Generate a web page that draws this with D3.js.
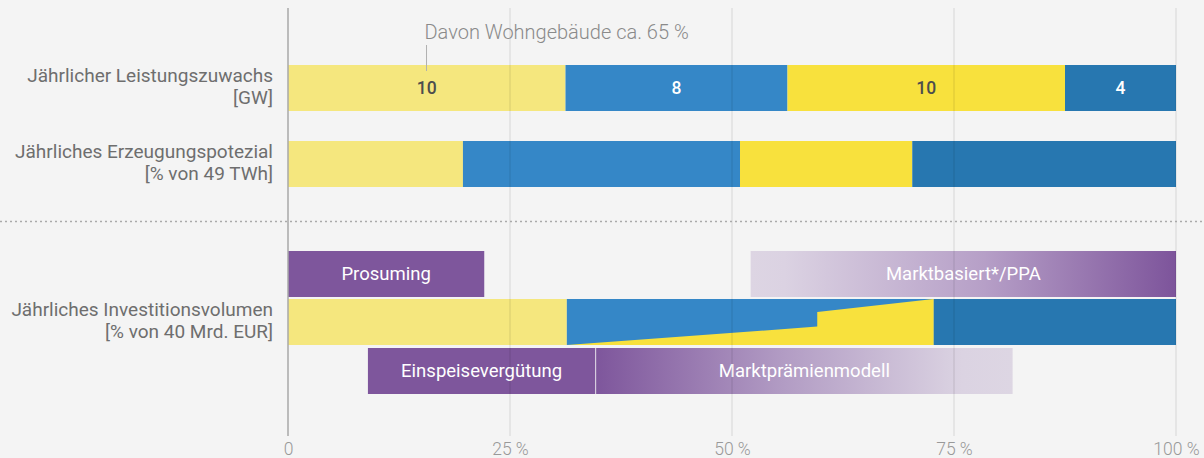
<!DOCTYPE html>
<html>
<head>
<meta charset="utf-8">
<script src="https://cdn.jsdelivr.net/npm/d3@7"></script>
<style>
  html, body { margin: 0; padding: 0; background: #f4f4f4; }
  svg { display: block; font-family: Roboto, "Open Sans", sans-serif; }
</style>
</head>
<body>
<svg id="chart" width="1204" height="458"></svg>
<script>
// ---------- data ----------
const rowLabels = [
  ["Jährlicher Leistungszuwachs", "[GW]"],
  ["Jährliches Erzeugungspotezial", "[% von 49 TWh]"],
  ["Jährliches Investitionsvolumen", "[% von 40 Mrd. EUR]"]
];
const rowKeys = ["leistung", "erzeugung", "invest"];
const segmentColors = ["#f5e77e", "#3587c7", "#f8e13d", "#2777b0"];
const leistungValues = [10, 8, 10, 4];            // GW
const leistungLabelColors = ["#4d4d4d", "#ffffff", "#4d4d4d", "#ffffff"];
const erzeugungValues = [19.7, 31.2, 19.4, 29.7]; // % of 49 TWh
const investValues = [31.4, 41.3, 27.3];          // % of 40 Mrd. EUR
const investColors = ["#f5e77e", "#3587c7", "#2777b0"];
// transition wedge (yellow) inside the blue investment segment
const wedgeX = [31.4, 59.6, 59.6, 72.7];           // % position
const wedgeShare = [0, 0.40, 0.72, 1.0];           // share of bar height from bottom
const programNames = ["Prosuming", "Marktbasiert*/PPA", "Einspeisevergütung", "Marktprämienmodell"];
const programStart = [0, 52.1, 9.0, 34.7];
const programEnd = [22.1, 100, 34.6, 81.6];
const programRow = ["above", "above", "below", "below"];
const programFade = ["none", "in", "none", "out"];
const tickValues = [0, 25, 50, 75, 100];
const tickLabels = ["0", "25 %", "50 %", "75 %", "100 %"];
const annotationText = "Davon Wohngebäude ca. 65 %";
const annotationAt = 15.6; // % position of the marker

// ---------- layout ----------
const svg = d3.select("#chart");
const x = d3.scaleLinear().domain([0, 100]).range([288, 1176]);
const yCenter = d3.scaleOrdinal()
  .domain(["leistung", "erzeugung", "above", "invest", "below"])
  .range([88, 164, 274, 322, 371]);
const barH = 46;

// defs: gradients
const defs = svg.append("defs");
const gIn = defs.append("linearGradient").attr("id", "fadeIn");
gIn.append("stop").attr("offset", "0%").attr("stop-color", "#ddd5e3");
gIn.append("stop").attr("offset", "8%").attr("stop-color", "#dbd2e2");
gIn.append("stop").attr("offset", "55%").attr("stop-color", "#b69fc7");
gIn.append("stop").attr("offset", "100%").attr("stop-color", "#7d549b");
const gOut = defs.append("linearGradient").attr("id", "fadeOut");
gOut.append("stop").attr("offset", "0%").attr("stop-color", "#7e569c");
gOut.append("stop").attr("offset", "45%").attr("stop-color", "#b29cc4");
gOut.append("stop").attr("offset", "88%").attr("stop-color", "#dbd3e2");
gOut.append("stop").attr("offset", "100%").attr("stop-color", "#ddd6e3");

// ---------- bars ----------
function stack(values) {
  const total = d3.sum(values);
  let acc = 0;
  return values.map(v => { const s = acc; acc += v; return [s / total * 100, acc / total * 100]; });
}

// Row 1
const r1 = stack(leistungValues);
const g1 = svg.append("g");
g1.selectAll("rect").data(r1).join("rect")
  .attr("x", d => x(d[0])).attr("width", d => x(d[1]) - x(d[0]))
  .attr("y", yCenter("leistung") - barH / 2).attr("height", barH)
  .attr("fill", (d, i) => segmentColors[i]);

// Row 2
const r2 = stack(erzeugungValues);
svg.append("g").selectAll("rect").data(r2).join("rect")
  .attr("x", d => x(d[0])).attr("width", d => x(d[1]) - x(d[0]))
  .attr("y", yCenter("erzeugung") - barH / 2).attr("height", barH)
  .attr("fill", (d, i) => segmentColors[i]);

// Row 3
const r3 = stack(investValues);
svg.append("g").selectAll("rect").data(r3).join("rect")
  .attr("x", d => x(d[0])).attr("width", d => x(d[1]) - x(d[0]))
  .attr("y", yCenter("invest") - barH / 2).attr("height", barH)
  .attr("fill", (d, i) => investColors[i]);

// wedge
const yBar = d3.scaleLinear().domain([0, 1])
  .range([yCenter("invest") + barH / 2, yCenter("invest") - barH / 2]);
const wedgePts = wedgeX.map((v, i) => [x(v), yBar(wedgeShare[i])]);
wedgePts.push([x(wedgeX[wedgeX.length - 1]), yBar(0)]);
svg.append("path")
  .attr("d", d3.line()(wedgePts) + "Z")
  .attr("fill", "#f8e13d");

// program boxes
const progs = programNames.map((n, i) => ({ n, s: programStart[i], e: programEnd[i], row: programRow[i], fade: programFade[i] }));
const pg = svg.append("g").selectAll("g").data(progs).join("g");
pg.append("rect")
  .attr("x", d => x(d.s)).attr("width", d => x(d.e) - x(d.s))
  .attr("y", d => yCenter(d.row) - barH / 2).attr("height", barH)
  .attr("fill", d => d.fade === "in" ? "url(#fadeIn)" : d.fade === "out" ? "url(#fadeOut)" : "#7e569c");
pg.append("text")
  .attr("x", d => (x(d.s) + x(d.e)) / 2)
  .attr("y", d => yCenter(d.row))
  .attr("dy", "0.35em")
  .attr("text-anchor", "middle")
  .attr("fill", "#ffffff")
  .attr("font-size", 18.5)
  .attr("font-weight", 400)
  .text(d => d.n);

// gridlines (on top, faint)
svg.append("g").selectAll("line").data(tickValues.slice(1)).join("line")
  .attr("x1", d => x(d)).attr("x2", d => x(d))
  .attr("y1", 8).attr("y2", 436)
  .attr("stroke", "#000").attr("stroke-opacity", 0.08).attr("stroke-width", 1.5);

// baseline axis
svg.append("line")
  .attr("x1", x(0)).attr("x2", x(0)).attr("y1", 8).attr("y2", 436)
  .attr("stroke", "#a8a8a8").attr("stroke-width", 1.5);

// value labels row 1
g1.selectAll("text").data(r1).join("text")
  .attr("x", d => (x(d[0]) + x(d[1])) / 2)
  .attr("y", yCenter("leistung"))
  .attr("dy", "0.35em")
  .attr("text-anchor", "middle")
  .attr("font-size", 17.5)
  .attr("font-weight", 500)
  .attr("fill", (d, i) => leistungLabelColors[i])
  .text((d, i) => leistungValues[i]);

// separator
svg.append("line")
  .attr("x1", 0).attr("x2", 1204).attr("y1", 221.5).attr("y2", 221.5)
  .attr("stroke", "#aaaaaa").attr("stroke-width", 1.5)
  .attr("stroke-dasharray", "2,3");

// annotation
svg.append("line")
  .attr("x1", x(annotationAt)).attr("x2", x(annotationAt))
  .attr("y1", 45).attr("y2", 71)
  .attr("stroke", "#b0b0b0").attr("stroke-width", 1);
svg.append("text")
  .attr("x", x(annotationAt) - 2).attr("y", 39)
  .attr("font-size", 20).attr("font-weight", 300)
  .attr("fill", "#8a8a8a")
  .text(annotationText);

// row labels
const lbl = svg.append("g").selectAll("text").data(rowLabels).join("text")
  .attr("text-anchor", "end")
  .attr("font-size", 19)
  .attr("fill", "#6e6e6e")
  .attr("transform", (d, i) => `translate(273,${yCenter(rowKeys[i])})`);
lbl.selectAll("tspan").data(d => d).join("tspan")
  .attr("x", 0)
  .attr("y", (d, j) => j === 0 ? -6 : 16)
  .text(d => d);

// x axis tick labels
const axis = d3.axisBottom(x).tickValues(tickValues).tickFormat((d, i) => tickLabels[i]).tickSize(0);
const ax = svg.append("g").attr("transform", "translate(0,436)").call(axis);
ax.select(".domain").remove();
ax.selectAll("text")
  .attr("font-family", "Roboto, sans-serif")
  .attr("font-size", 17.5).attr("font-weight", 300)
  .attr("fill", "#999999").attr("dy", "0").attr("y", 19);
</script>
</body>
</html>
